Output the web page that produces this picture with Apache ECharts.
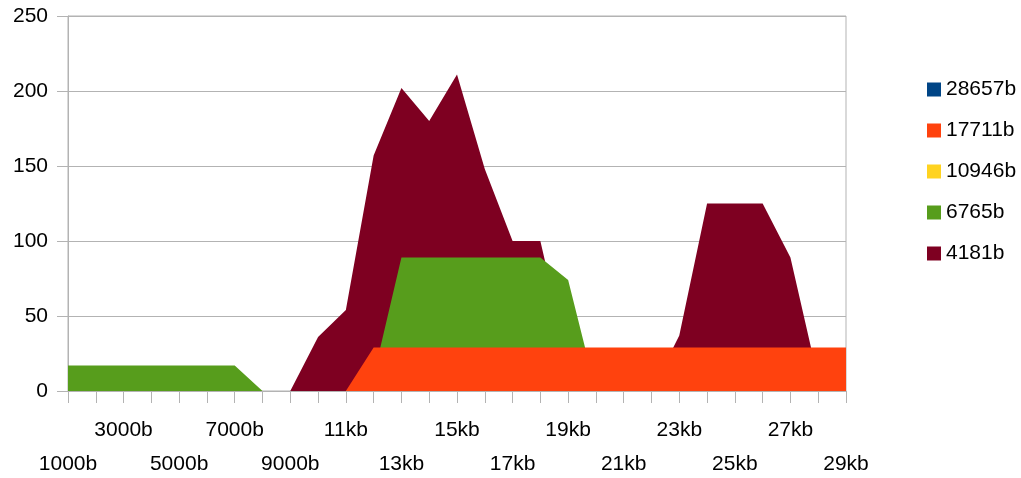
<!DOCTYPE html>
<html>
<head>
<meta charset="utf-8">
<script src="https://cdn.jsdelivr.net/npm/echarts@6/dist/echarts.min.js"></script>
<style>html,body{margin:0;padding:0;background:#fff;}#c{width:1021px;height:478px;}</style>
</head>
<body>
<div id="c"></div>
<script>
var categories = ['1000b','2000b','3000b','4000b','5000b','6000b','7000b','8000b','9000b',
  '10kb','11kb','12kb','13kb','14kb','15kb','16kb','17kb','18kb','19kb','20kb',
  '21kb','22kb','23kb','24kb','25kb','26kb','27kb','28kb','29kb'];
var s4181  = [0,0,0,0,0,0,0,0,0,36,54,157,202,180,211,148,100,100,20,0,0,0,37,125,125,125,89,8,0];
var s6765  = [17,17,17,17,17,17,17,0,0,0,0,10,89,89,89,89,89,89,74,0,0,0,0,0,0,0,0,0,0];
var s10946 = [0,0,0,0,0,0,0,0,0,0,0,0,0,0,0,0,0,0,0,0,0,0,0,0,0,0,0,0,0];
var s17711 = [0,0,0,0,0,0,0,0,0,0,0,29,29,29,29,29,29,29,29,29,29,29,29,29,29,29,29,29,29];
var s28657 = [0,0,0,0,0,0,0,0,0,0,0,0,0,0,0,0,0,0,0,0,0,0,0,0,0,0,0,0,0];
var seriesNames = ['28657b','17711b','10946b','6765b','4181b'];
var yTicks = {min:0, max:250, interval:50};

var FONT = 'Liberation Sans';
var grey = '#b3b3b3';
function area(name, data, color) {
  return {name:name, type:'line', data:data, symbol:'none', showSymbol:false,
    lineStyle:{width:0, color:color}, itemStyle:{color:color},
    areaStyle:{color:color, opacity:1}, animation:false};
}
var chart = echarts.init(document.getElementById('c'), null, {renderer:'canvas'});
chart.setOption({
  animation:false,
  backgroundColor:'#fff',
  grid:{left:68, right:175, top:16, bottom:87, containLabel:false, outerBoundsMode:'none',
    show:true, borderColor:grey, borderWidth:1, backgroundColor:'transparent'},
  legend:{orient:'vertical', left:922, top:74, itemWidth:14, itemHeight:14, itemGap:20, icon:'rect',
    data:seriesNames, textStyle:{fontFamily:FONT, fontSize:21, color:'#000'}, selectedMode:false},
  xAxis:{type:'category', data:categories, boundaryGap:false,
    axisLine:{show:true, lineStyle:{color:grey}},
    axisTick:{show:true, inside:false, length:12, interval:0, lineStyle:{color:grey}},
    splitLine:{show:false},
    axisLabel:{interval:0, margin:22, fontFamily:FONT, fontSize:21, color:'#000', lineHeight:34,
      formatter:function(v, i){ if (i % 4 === 2) return v; if (i % 4 === 0) return '\n' + v; return ''; }}},
  yAxis:{type:'value', min:yTicks.min, max:yTicks.max, interval:yTicks.interval,
    axisLine:{show:true, lineStyle:{color:grey}},
    axisTick:{show:true, inside:false, length:11, lineStyle:{color:grey}},
    splitLine:{show:true, lineStyle:{color:grey, width:1}},
    axisLabel:{margin:20, fontFamily:FONT, fontSize:21, color:'#000'}},
  series:[
    area('4181b', s4181, '#7e0021'),
    area('6765b', s6765, '#579d1c'),
    area('10946b', s10946, '#ffd320'),
    area('17711b', s17711, '#ff420e'),
    area('28657b', s28657, '#004586')
  ]
});
</script>
</body>
</html>
